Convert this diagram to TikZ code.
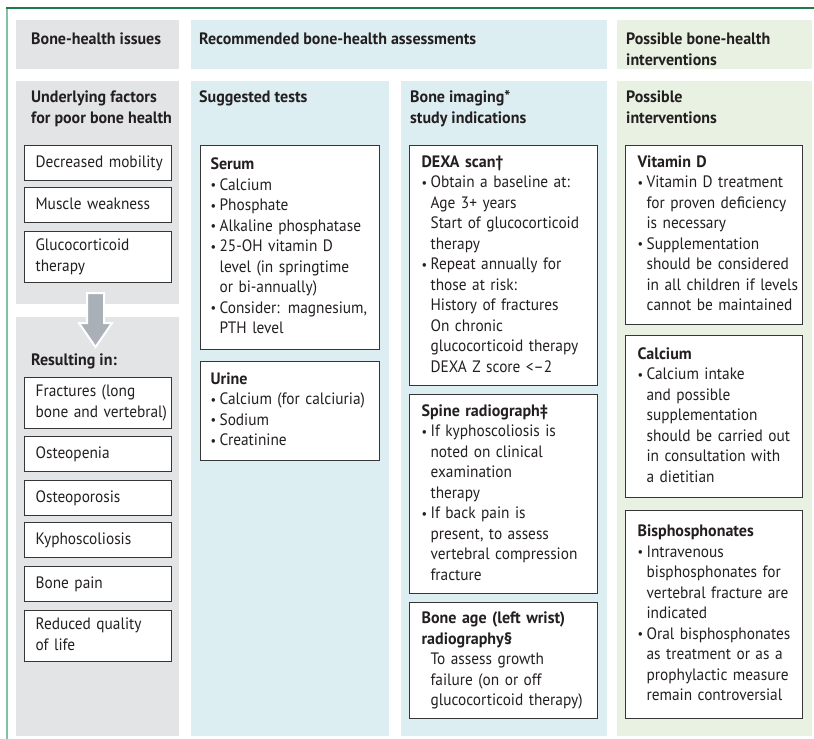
\documentclass[tikz,border=0pt]{standalone}
\usepackage{graphicx}
\usepackage{fontspec}
\setmainfont{PT Sans}[FakeStretch=0.93, BoldFeatures={FakeStretch=0.97}]
\definecolor{pgray}{HTML}{E3E4E6}
\definecolor{pblue}{HTML}{DDEEF3}
\definecolor{pgreen}{HTML}{E8F1E2}
\definecolor{topgreen}{HTML}{1E7B4B}
\definecolor{leftgreen}{HTML}{7FC3A2}
\definecolor{arrowgray}{HTML}{A9B0B8}
\definecolor{boxline}{HTML}{363636}
\definecolor{txt}{HTML}{231F20}
\newcommand\bu{\makebox[9pt][l]{\raisebox{0.6pt}{\scalebox{0.8}{•}}}}
\newcommand\ci{\hspace*{9pt}}
\newcommand\colt[1]{\begin{tabular}{@{}l@{}}#1\end{tabular}}
\begin{document}
\begin{tikzpicture}[x=1pt,y=-1pt,
  every node/.style={text=txt, font=\fontsize{16.5}{20.5}\selectfont},
  panel/.style={draw=none, inner sep=0pt, anchor=north west},
  head/.style={anchor=base west, inner sep=0pt, align=left, font=\bfseries\fontsize{16.5}{21}\selectfont},
  ibox/.style={draw=boxline, line width=1.2pt, fill=white, anchor=north west, inner ysep=0pt},
  lbox/.style={ibox, minimum width=147pt, inner xsep=11pt, text width=125pt},
  sbox/.style={ibox, minimum width=179pt, inner xsep=10pt, text width=159pt},
  dbox/.style={ibox, minimum width=188pt, inner xsep=12pt, text width=164pt},
  vbox/.style={ibox, minimum width=177pt, inner xsep=12pt, text width=153pt},
]
\useasboundingbox (0,0) rectangle (814,739);
\fill[white] (0,0) rectangle (814,739);
% frame lines
\draw[leftgreen, line width=1.5pt] (7,8) -- (7,739);
\draw[topgreen, line width=1.5pt] (6.25,8) -- (814,8);
% header panels
\node[panel, fill=pgray, minimum width=163pt, minimum height=49pt] (h1) at (16,20) {};
\node[panel, fill=pblue, minimum width=416pt, minimum height=49pt] (h2) at (191,20) {};
\node[panel, fill=pgreen, minimum width=195pt, minimum height=49pt] (h3) at (617,20) {};
% column panels
\node[panel, fill=pgray, minimum width=163pt, minimum height=223pt] (p1) at (16,81) {};
\node[panel, fill=pgray, minimum width=163pt, minimum height=419pt] (p1b) at (16,317) {};
\node[panel, fill=pblue, minimum width=198pt, minimum height=655pt] (p2) at (191,81) {};
\node[panel, fill=pblue, minimum width=206pt, minimum height=655pt] (p3) at (401,81) {};
\node[panel, fill=pgreen, minimum width=195pt, minimum height=655pt] (p4) at (617,81) {};
% header texts (base = last line)
\node[head] (t1) at (31,44) {Bone-health issues};
\node[head] (t2) at (199,44) {Recommended bone-health assessments};
\node[head] (t3) at (626,65) {Possible bone-health\\interventions};
\node[head] (s1) at (31,123) {Underlying factors\\for poor bone health};
\node[head] (s2) at (199,102) {Suggested tests};
\node[head] (s3) at (410,123) {Bone imaging*\\study indications};
\node[head] (s4) at (626,123) {Possible\\interventions};
\node[head] (s5) at (31,365) {Resulting in:};
% arrow
\draw[white, line width=2pt, fill=arrowgray, line join=miter]
  (87,293) -- (104,293) -- (104,323) -- (112,323) -- (95.5,347) -- (79,323) -- (87,323) -- cycle;
% left boxes
\node[lbox, minimum height=35pt] (a1) at (24,145) {\colt{Decreased mobility}};
\node[lbox, minimum height=35pt] (a2) at (24,187) {\colt{Muscle weakness}};
\node[lbox, minimum height=51pt] (a3) at (24,231) {\colt{Glucocorticoid\\therapy}};
\node[lbox, minimum height=51pt] (r1) at (24,377) {\colt{Fractures (long\\bone and vertebral)}};
\node[lbox, minimum height=35pt] (r2) at (24,436) {\colt{Osteopenia}};
\node[lbox, minimum height=35pt] (r3) at (24,480) {\colt{Osteoporosis}};
\node[lbox, minimum height=35pt] (r4) at (24,522) {\colt{Kyphoscoliosis}};
\node[lbox, minimum height=35pt] (r5) at (24,566) {\colt{Bone pain}};
\node[lbox, minimum height=51pt] (r6) at (24,610) {\colt{Reduced quality\\of life}};
% suggested tests
\node[sbox, minimum height=204pt] (serum) at (200,145) {\colt{\textbf{Serum}\\\bu Calcium\\\bu Phosphate\\\bu Alkaline phosphatase\\\bu 25-OH vitamin D\\\ci level (in springtime\\\ci or bi-annually)\\\bu Consider: magnesium,\\\ci PTH level}};
\node[sbox, minimum height=99pt] (urine) at (200,361) {\colt{\textbf{Urine}\\\bu Calcium (for calciuria)\\\bu Sodium\\\bu Creatinine}};
% imaging
\node[dbox, minimum height=240pt] (dexa) at (409,145) {\colt{\textbf{DEXA scan†}\\\bu Obtain a baseline at:\\\ci Age 3+ years\\\ci Start of glucocorticoid\\\ci therapy\\\bu Repeat annually for\\\ci those at risk:\\\ci History of fractures\\\ci On chronic\\\ci glucocorticoid therapy\\\ci DEXA Z score <–2}};
\node[dbox, minimum height=199pt] (spine) at (409,394) {\colt{\textbf{Spine radiograph‡}\\\bu If kyphoscoliosis is\\\ci noted on clinical\\\ci examination\\\ci therapy\\\bu If back pain is\\\ci present, to assess\\\ci vertebral compression\\\ci fracture}};
\node[dbox, minimum height=116pt] (boneage) at (409,602) {\colt{\textbf{Bone age (left wrist)}\\\textbf{radiography§}\\\ci To assess growth\\\ci failure (on or off\\\ci glucocorticoid therapy)}};
% interventions
\node[vbox, minimum height=179pt] (vitd) at (625,145) {\colt{\textbf{Vitamin D}\\\bu Vitamin D treatment\\\ci for proven deficiency\\\ci is necessary\\\bu Supplementation\\\ci should be considered\\\ci in all children if levels\\\ci cannot be maintained}};
\node[vbox, minimum height=162pt] (calc) at (625,335) {\colt{\textbf{Calcium}\\\bu Calcium intake\\\ci and possible\\\ci supplementation\\\ci should be carried out\\\ci in consultation with\\\ci a dietitian}};
\node[vbox, minimum height=208pt] (bisph) at (625,510) {\colt{\textbf{Bisphosphonates}\\\bu Intravenous\\\ci bisphosphonates for\\\ci vertebral fracture are\\\ci indicated\\\bu Oral bisphosphonates\\\ci as treatment or as a\\\ci prophylactic measure\\\ci remain controversial}};
\end{tikzpicture}
\end{document}
